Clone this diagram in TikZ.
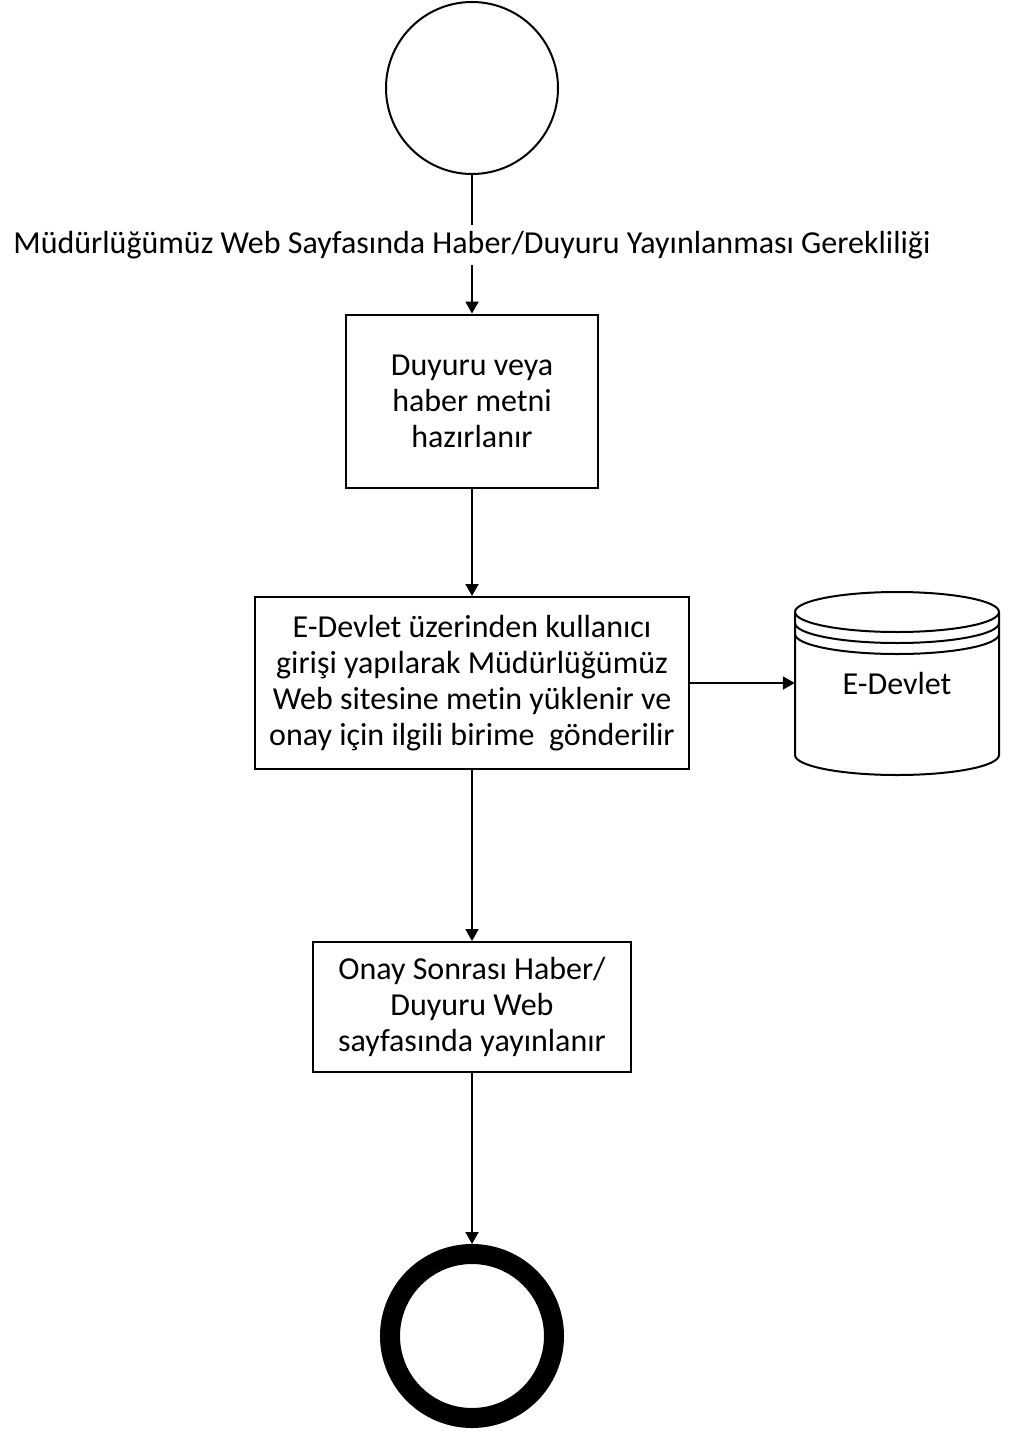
\documentclass[tikz,border=0pt]{standalone}
\usepackage{fontspec}
\setmainfont{Carlito}[Ligatures=NoCommon]
\usetikzlibrary{arrows.meta, positioning}

\begin{document}
\begin{tikzpicture}[x=1pt, y=-1pt,
  txt/.style={font=\fontsize{32}{36}\selectfont, align=center},
  box/.style={draw, rectangle, line width=2pt, inner sep=0pt, txt},
  flow/.style={line width=2pt, -{Triangle[length=12pt, width=13pt]}}]
\useasboundingbox[fill=white] (0,0) rectangle (1009,1432);
% Start event
\node[draw, circle, line width=2pt, minimum size=172pt] (start) at (472,88) {};
% Condition written on the first connector
\node[txt, fill=white, inner sep=0pt, minimum height=40pt] (need) at (472,245) {Müdürlüğümüz Web Sayfasında Haber/Duyuru Yayınlanması Gerekliliği};
%
% Process steps
\node[box, minimum width=252pt, minimum height=173pt] (prep) at (472,401) {Duyuru veya\\haber metni\\hazırlanır};
\node[box, minimum width=434pt, minimum height=172pt] (upload) at (472,683) {E-Devlet üzerinden kullanıcı\\girişi yapılarak Müdürlüğümüz\\Web sitesine metin yüklenir ve\\onay için ilgili birime~ gönderilir};
\node[box, minimum width=318pt, minimum height=130pt] (publish) at (472,1007) {Onay Sonrası Haber/\\Duyuru Web\\sayfasında yayınlanır};
%
% Data store: E-Devlet
\node[txt, minimum width=204pt, minimum height=160pt, inner sep=0pt] (db) at (897,683) {E-Devlet};
\draw[line width=2pt] (795,612) -- (795,755) arc[start angle=180, end angle=360, x radius=102pt, y radius=20pt] -- (999,612);
\draw[line width=2pt] (897,612) ellipse [x radius=102pt, y radius=20pt];
\draw[line width=2pt] (795,623) arc[start angle=180, end angle=360, x radius=102pt, y radius=20pt];
\draw[line width=2pt] (795,634) arc[start angle=180, end angle=360, x radius=102pt, y radius=20pt];
%
% End event
\node[draw, circle, line width=20pt, minimum size=164pt, outer sep=10pt] (stop) at (472,1336) {};
%
% Connectors
\draw[line width=2pt] (start) -- (need);
\draw[flow] (need) -- (prep);
\draw[flow] (prep) -- (upload);
\draw[flow] (upload) -- (db);
\draw[flow] (upload) -- (publish);
\draw[flow] (publish) -- (stop);
\end{tikzpicture}
\end{document}
